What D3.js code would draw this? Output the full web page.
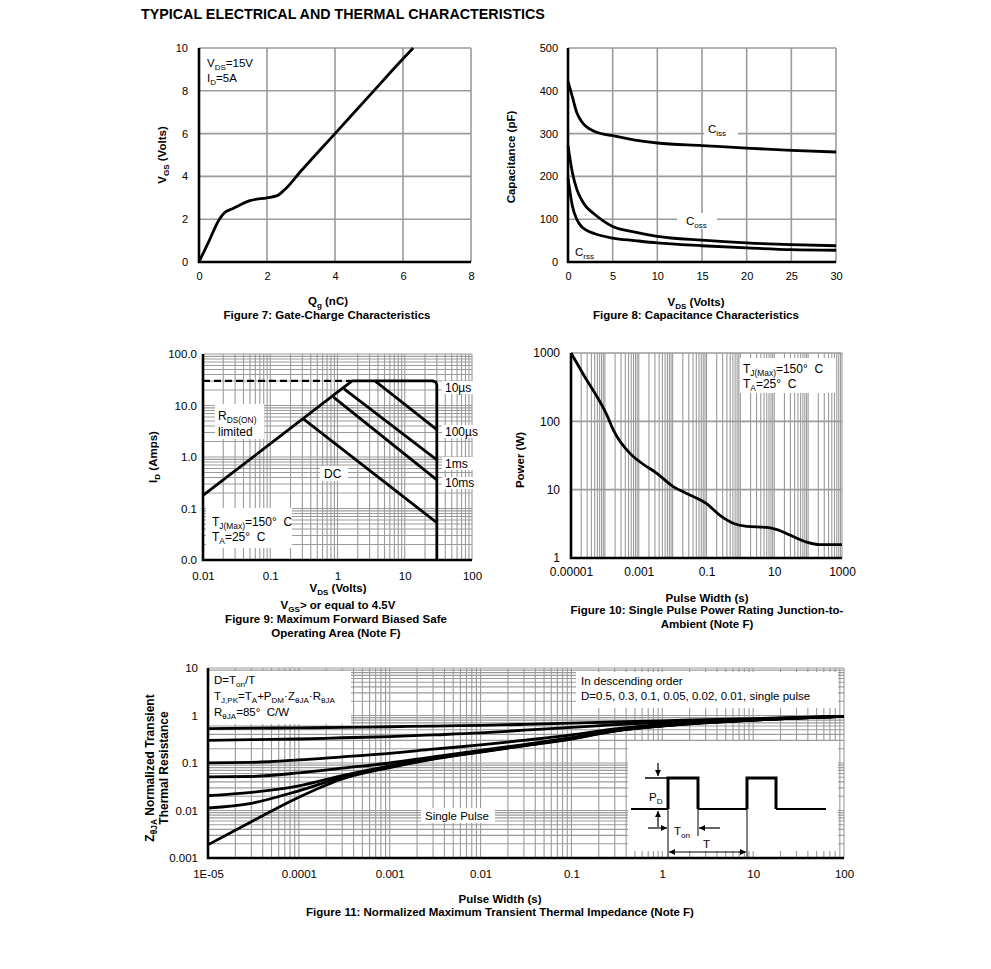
<!DOCTYPE html>
<html>
<head>
<meta charset="utf-8">
<script src="https://cdnjs.cloudflare.com/ajax/libs/d3/7.8.5/d3.min.js"></script>
<style>
  body { margin: 0; background: #fff; }
  svg { display: block; }
</style>
</head>
<body>
<svg width="991" height="969"></svg>
<script>

// Figure 7: gate charge
const gateQg = [0, 0.3, 0.6, 0.75, 1.0, 1.5, 2.0, 2.3, 2.5, 3.0, 4.0, 5.0, 6.0, 6.3]
const gateVgs = [0, 1.0, 2.0, 2.3, 2.5, 2.87, 3.0, 3.1, 3.35, 4.25, 6.0, 7.75, 9.5, 10]
const gateXTicks = [0, 2, 4, 6, 8]
const gateYTicks = [0, 2, 4, 6, 8, 10]

// Figure 8: capacitance
const capVds = [0, 0.5, 1, 1.5, 2, 3, 5, 7.5, 10, 15, 20, 25, 30]
const capCiss = [422, 385, 348, 329, 317, 305, 295, 285, 278, 272, 266, 261, 257]
const capCoss = [272, 208, 169, 146, 130, 111, 83, 70, 60, 51, 44.5, 40.5, 38]
const capCrss = [196, 130, 99, 83, 75, 66, 56, 50, 44.5, 38, 33, 29, 27.5]
const capXTicks = [0, 5, 10, 15, 20, 25, 30]
const capYTicks = [0, 100, 200, 300, 400, 500]

// Figure 9: safe operating area
const soaRdsV = [0.01, 1.65]
const soaRdsI = [0.18, 30]
const soaDashV = [0.01, 1.65]
const soaDashI = [30, 30]
const soa10usV = [1.65, 26, 29, 30, 30]
const soa10usI = [30, 30, 28.5, 25, 0.01]
const soa100usV = [3.6, 30]
const soa100usI = [30, 3.4]
const soa1msV = [1.25, 30]
const soa1msI = [21, 0.88]
const soa10msV = [0.87, 30]
const soa10msI = [14.6, 0.36]
const soaDcV = [0.31, 30]
const soaDcI = [5.5, 0.053]
const soaTicks = [0.01, 0.1, 1, 10, 100]
const soaXLabels = ['0.01', '0.1', '1', '10', '100']
const soaYLabels = ['0.0', '0.1', '1.0', '10.0', '100.0']

// Figure 10: single pulse power
const powT = [1e-5, 2.35e-5, 1.15e-4, 1.8e-4, 5.6e-4, 1.1e-3, 3.5e-3, 1.07e-2, 2.6e-2, 0.1, 0.25, 0.63, 1.55, 6, 12, 30, 91, 224, 1000]
const powW = [1000, 480, 123, 74, 33.7, 25.4, 17.2, 11, 8.8, 6.25, 4.2, 3.2, 2.9, 2.8, 2.6, 2.15, 1.71, 1.57, 1.57]
const powXTicks = [1e-5, 1e-3, 0.1, 10, 1000]
const powXLabels = ['0.00001', '0.001', '0.1', '10', '1000']
const powYTicks = [1, 10, 100, 1000]
const powYLabels = ['1', '10', '100', '1000']

// Figure 11: transient thermal impedance
const zthT = [1e-5, 3e-5, 1e-4, 3e-4, 1e-3, 3e-3, 1e-2, 3e-2, 0.1, 0.3, 1, 3, 10, 30, 100]
const zthD05 = [0.53, 0.54, 0.55, 0.56, 0.58, 0.60, 0.62, 0.65, 0.69, 0.73, 0.77, 0.82, 0.86, 0.91, 0.96]
const zthD03 = [0.30, 0.31, 0.32, 0.34, 0.36, 0.39, 0.43, 0.49, 0.56, 0.64, 0.71, 0.77, 0.84, 0.90, 0.96]
const zthD01 = [0.101, 0.103, 0.116, 0.135, 0.16, 0.195, 0.24, 0.30, 0.39, 0.52, 0.65, 0.74, 0.82, 0.89, 0.96]
const zthD005 = [0.051, 0.052, 0.062, 0.078, 0.10, 0.135, 0.185, 0.245, 0.34, 0.49, 0.62, 0.72, 0.81, 0.88, 0.96]
const zthD002 = [0.0205, 0.024, 0.033, 0.054, 0.087, 0.126, 0.176, 0.237, 0.33, 0.48, 0.61, 0.71, 0.80, 0.88, 0.96]
const zthD001 = [0.0113, 0.0142, 0.026, 0.05, 0.083, 0.122, 0.172, 0.233, 0.325, 0.475, 0.605, 0.71, 0.80, 0.88, 0.96]
const zthSingle = [0.0019, 0.0058, 0.019, 0.046, 0.08, 0.12, 0.17, 0.23, 0.32, 0.47, 0.60, 0.70, 0.80, 0.88, 0.96]
const zthXTicks = [1e-5, 1e-4, 1e-3, 1e-2, 0.1, 1, 10, 100]
const zthXLabels = ['1E-05', '0.0001', '0.001', '0.01', '0.1', '1', '10', '100']
const zthYTicks = [0.001, 0.01, 0.1, 1, 10]
const zthYLabels = ['0.001', '0.01', '0.1', '1', '10']


const FONT = '"Liberation Sans", Arial, Helvetica, sans-serif'
const GRID = '#9b9b9b'
const NB = '\u00a0'

const svg = d3.select('svg')
  .attr('font-family', FONT)

svg.append('rect')
  .attr('width', 991)
  .attr('height', 969)
  .attr('fill', '#fff')

const defs = svg.append('defs')
defs.append('marker')
  .attr('id', 'arrow')
  .attr('viewBox', '0 0 10 10')
  .attr('refX', 10)
  .attr('refY', 5)
  .attr('markerWidth', 5)
  .attr('markerHeight', 5)
  .attr('orient', 'auto-start-reverse')
  .append('path')
  .attr('d', 'M0,0 L10,5 L0,10 z')
  .attr('fill', '#000')


// helpers
const logSteps = function(lo, hi) {
  const out = []
  for (let e = Math.round(Math.log10(lo)); e < Math.round(Math.log10(hi)); e++) {
    for (let k = 1; k < 10; k++) out.push(k * Math.pow(10, e))
  }
  out.push(hi)
  return out
}

const vLines = function(xs, ys, values, w) {
  const [yb, yt] = ys.range()
  svg.append('g')
    .selectAll('line')
    .data(values)
    .enter()
    .append('line')
    .attr('x1', d => xs(d))
    .attr('x2', d => xs(d))
    .attr('y1', yt)
    .attr('y2', yb)
    .attr('stroke', GRID)
    .attr('stroke-width', w)
}

const hLines = function(xs, ys, values, w) {
  const [xl, xr] = xs.range()
  svg.append('g')
    .selectAll('line')
    .data(values)
    .enter()
    .append('line')
    .attr('x1', xl)
    .attr('x2', xr)
    .attr('y1', d => ys(d))
    .attr('y2', d => ys(d))
    .attr('stroke', GRID)
    .attr('stroke-width', w)
}

const axes = function(xs, ys, xTicks, xLabels, yTicks, yLabels, padB, padL, size) {
  const [xl, xr] = xs.range()
  const [yb, yt] = ys.range()
  const bottom = svg.append('g')
    .attr('transform', `translate(0, ${yb})`)
    .call(d3.axisBottom(xs).tickValues(xTicks).tickFormat((d, i) => xLabels[i]).tickSize(0).tickPadding(padB))
  const left = svg.append('g')
    .attr('transform', `translate(${xl}, 0)`)
    .call(d3.axisLeft(ys).tickValues(yTicks).tickFormat((d, i) => yLabels[i]).tickSize(0).tickPadding(padL))
  ;[bottom, left].forEach(g => {
    g.attr('font-size', size || 11).attr('font-family', FONT)
    g.select('.domain').remove()
  })
  svg.append('path')
    .attr('d', `M${xl},${yt}V${yb}H${xr}`)
    .attr('fill', 'none')
    .attr('stroke', '#000')
    .attr('stroke-width', 2.6)
}

const curve = function(xs, ys, xv, yv, smooth, w) {
  const line = d3.line()
    .x(d => xs(d[0]))
    .y(d => ys(d[1]))
    .curve(smooth ? d3.curveMonotoneX : d3.curveLinear)
  return svg.append('path')
    .datum(xv.map((x, i) => [x, yv[i]]))
    .attr('d', line)
    .attr('fill', 'none')
    .attr('stroke', '#000')
    .attr('stroke-width', w || 2.8)
    .attr('stroke-linejoin', 'round')
}

// parts: strings are normal text, one-element arrays are subscripts
const rich = function(x, y, parts, o = {}) {
  const size = o.size || 11
  const t = svg.append('text')
    .attr('font-size', size)
    .attr('font-weight', o.bold ? 'bold' : null)
    .attr('text-anchor', o.anchor || 'start')
  if (o.rotate) {
    t.attr('transform', `translate(${x}, ${y}) rotate(-90)`)
  } else {
    t.attr('x', x).attr('y', y)
  }
  let shift = 0
  parts.forEach(p => {
    const sub = Array.isArray(p)
    const target = sub ? size * 0.22 : 0
    t.append('tspan')
      .attr('dy', target - shift)
      .attr('font-size', sub ? size * 0.7 : size)
      .text(sub ? p[0] : p)
    shift = target
  })
  return t
}

const box = function(x, y, w, h) {
  svg.append('rect')
    .attr('x', x)
    .attr('y', y)
    .attr('width', w)
    .attr('height', h)
    .attr('fill', '#fff')
}

const caption = function(x, y, text) {
  svg.append('text')
    .attr('x', x)
    .attr('y', y)
    .attr('text-anchor', 'middle')
    .attr('font-size', 11.5)
    .attr('font-weight', 'bold')
    .text(text)
}


svg.append('text')
  .attr('x', 141)
  .attr('y', 19)
  .attr('font-size', 14.3)
  .attr('font-weight', 'bold')
  .text('TYPICAL ELECTRICAL AND THERMAL CHARACTERISTICS')


// Figure 7
const x7 = d3.scaleLinear().domain([0, 8]).range([199, 471])
const y7 = d3.scaleLinear().domain([0, 10]).range([262, 48])

vLines(x7, y7, gateXTicks, 1.6)
hLines(x7, y7, gateYTicks, 1.6)
curve(x7, y7, gateQg, gateVgs, true)
axes(x7, y7, gateXTicks, gateXTicks.map(String), gateYTicks, gateYTicks.map(String), 10, 11)

rich(207, 67, ['V', ['DS'], '=15V'], {size: 11.5})
rich(207, 82, ['I', ['D'], '=5A'], {size: 11.5})
rich(166, 155, ['V', ['GS'], ' (Volts)'], {bold: true, anchor: 'middle', rotate: true, size: 11.5})
rich(328, 305, ['Q', ['g'], ' (nC)'], {bold: true, anchor: 'middle', size: 11.5})
caption(327, 319, 'Figure 7: Gate-Charge Characteristics')


// Figure 8
const x8 = d3.scaleLinear().domain([0, 30]).range([568, 836])
const y8 = d3.scaleLinear().domain([0, 500]).range([262, 48])

vLines(x8, y8, capXTicks, 1.6)
hLines(x8, y8, capYTicks, 1.6)
box(704, 122, 34, 16)
box(677, 213, 40, 16)
curve(x8, y8, capVds, capCiss, true)
curve(x8, y8, capVds, capCoss, true)
curve(x8, y8, capVds, capCrss, true)
axes(x8, y8, capXTicks, capXTicks.map(String), capYTicks, capYTicks.map(String), 10, 10)

rich(708, 133, ['C', ['iss']], {size: 11.5})
rich(686, 225, ['C', ['oss']], {size: 11.5})
rich(575, 256, ['C', ['rss']], {size: 11.5})
rich(515, 157, ['Capacitance (pF)'], {bold: true, anchor: 'middle', rotate: true, size: 11.5})
rich(696, 306, ['V', ['DS'], ' (Volts)'], {bold: true, anchor: 'middle', size: 11.5})
caption(696, 319, 'Figure 8: Capacitance Characteristics')


// Figure 9
const x9 = d3.scaleLog().domain([0.01, 100]).range([203, 472])
const y9 = d3.scaleLog().domain([0.01, 100]).range([560, 354])

vLines(x9, y9, logSteps(0.01, 100), 1.1)
hLines(x9, y9, logSteps(0.01, 100), 1.1)
box(215, 404, 49, 35)
box(206, 508, 86, 40)
box(320, 466, 28, 15)
box(442, 381, 31, 13)
box(442, 425, 31, 13)
box(442, 457, 31, 13)
box(442, 477, 31, 12)

curve(x9, y9, soaRdsV, soaRdsI, false)
curve(x9, y9, soaDashV, soaDashI, false, 2.2).attr('stroke-dasharray', '7,4')
curve(x9, y9, soa10usV, soa10usI, false)
curve(x9, y9, soa100usV, soa100usI, false)
curve(x9, y9, soa1msV, soa1msI, false)
curve(x9, y9, soa10msV, soa10msI, false)
curve(x9, y9, soaDcV, soaDcI, false)
axes(x9, y9, soaTicks, soaXLabels, soaTicks, soaYLabels, 12, 6, 11.5)

rich(445, 392, ['10µs'], {size: 12})
rich(445, 436, ['100µs'], {size: 12})
rich(445, 468, ['1ms'], {size: 12})
rich(445, 487, ['10ms'], {size: 12})
rich(324, 478, ['DC'], {size: 12})
rich(218, 420, ['R', ['DS(ON)']], {size: 12})
rich(218, 436, ['limited'], {size: 12})
rich(212, 526, ['T', ['J(Max)'], '=150°' + NB + NB + 'C'], {size: 12})
rich(212, 541, ['T', ['A'], '=25°' + NB + NB + 'C'], {size: 12})

rich(157, 457, ['I', ['D'], ' (Amps)'], {bold: true, anchor: 'middle', rotate: true, size: 11.5})
rich(338, 592, ['V', ['DS'], ' (Volts)'], {bold: true, anchor: 'middle', size: 11.5})
rich(338, 609, ['V', ['GS'], '> or equal to 4.5V'], {bold: true, anchor: 'middle', size: 11.5})
caption(336, 623, 'Figure 9: Maximum Forward Biased Safe')
caption(336, 637, 'Operating Area (Note F)')


// Figure 10
const x10 = d3.scaleLog().domain([1e-5, 1000]).range([571, 842])
const y10 = d3.scaleLog().domain([1, 1000]).range([558, 353])

vLines(x10, y10, logSteps(1e-5, 1000), 1.1)
hLines(x10, y10, powYTicks, 1.6)
box(740, 358, 95, 35)
curve(x10, y10, powT, powW, true)
axes(x10, y10, powXTicks, powXLabels, powYTicks, powYLabels, 9, 11, 12)

rich(743, 373, ['T', ['J(Max)'], '=150°' + NB + NB + 'C'], {size: 12})
rich(743, 388, ['T', ['A'], '=25°' + NB + NB + 'C'], {size: 12})
rich(524, 460, ['Power (W)'], {bold: true, anchor: 'middle', rotate: true, size: 11.5})
rich(707, 602, ['Pulse Width (s)'], {bold: true, anchor: 'middle', size: 11.5})
caption(707, 614, 'Figure 10: Single Pulse Power Rating Junction-to-')
caption(707, 628, 'Ambient (Note F)')


// Figure 11
const x11 = d3.scaleLog().domain([1e-5, 100]).range([208, 844])
const y11 = d3.scaleLog().domain([0.001, 10]).range([858, 668])

vLines(x11, y11, logSteps(1e-5, 100), 1.1)
hLines(x11, y11, logSteps(0.001, 10), 1.1)
box(209, 671, 142, 53)
box(576, 672, 262, 36)
box(421, 808, 74, 15)
box(628, 741, 210, 110)

;[zthD05, zthD03, zthD01, zthD005, zthD002, zthD001, zthSingle].forEach(series => {
  curve(x11, y11, zthT, series, true)
})
axes(x11, y11, zthXTicks, zthXLabels, zthYTicks, zthYLabels, 12, 10, 11.5)

rich(214, 684, ['D=T', ['on'], '/T'], {size: 11.5})
rich(214, 700, ['T', ['J,PK'], '=T', ['A'], '+P', ['DM'], '·Z', ['θJA'], '·R', ['θJA']], {size: 11.5})
rich(214, 716, ['R', ['θJA'], '=85°' + NB + NB + 'C/W'], {size: 11.5})
rich(581, 685, ['In descending order'], {size: 11.5})
rich(581, 700, ['D=0.5, 0.3, 0.1, 0.05, 0.02, 0.01, single pulse'], {size: 11.5})
rich(425, 820, ['Single Pulse'], {size: 11.5})

// pulse sketch inside the inset
const ib = {x: 628, y: 741}
const lowY = ib.y + 68
const highY = ib.y + 37
const inset = svg.append('g')
  .attr('stroke', '#000')
  .attr('fill', 'none')

inset.append('path')
  .attr('d', `M${ib.x + 3},${lowY}H${ib.x + 40}M${ib.x + 70},${lowY}H${ib.x + 119}M${ib.x + 148},${lowY}H${ib.x + 198}`)
  .attr('stroke-width', 2)
inset.append('path')
  .attr('d', `M${ib.x + 40},${lowY}V${highY}H${ib.x + 70}V${lowY}M${ib.x + 119},${lowY}V${highY}H${ib.x + 148}V${lowY}`)
  .attr('stroke-width', 3)
inset.append('path')
  .attr('d', `M${ib.x + 17},${highY}H${ib.x + 40}`)
  .attr('stroke-width', 1.5)
inset.append('path')
  .attr('d', `M${ib.x + 40},${lowY}V${ib.y + 117}M${ib.x + 70},${lowY}V${ib.y + 95}M${ib.x + 119},${lowY}V${ib.y + 117}`)
  .attr('stroke-width', 1)

const arrows = [
  [ib.x + 30, ib.y + 22, ib.x + 30, highY - 2],
  [ib.x + 30, ib.y + 86, ib.x + 30, lowY + 2],
  [ib.x + 20, ib.y + 87, ib.x + 39, ib.y + 87],
  [ib.x + 92, ib.y + 87, ib.x + 71, ib.y + 87]
]
arrows.forEach(a => {
  inset.append('line')
    .attr('x1', a[0]).attr('y1', a[1])
    .attr('x2', a[2]).attr('y2', a[3])
    .attr('stroke-width', 1.2)
    .attr('marker-end', 'url(#arrow)')
})
inset.append('line')
  .attr('x1', ib.x + 41).attr('y1', ib.y + 111)
  .attr('x2', ib.x + 118).attr('y2', ib.y + 111)
  .attr('stroke-width', 1.2)
  .attr('marker-start', 'url(#arrow)')
  .attr('marker-end', 'url(#arrow)')

rich(ib.x + 21, ib.y + 60, ['P', ['D']], {size: 11.5})
rich(ib.x + 46, ib.y + 94, ['T', ['on']], {size: 11.5})
rich(ib.x + 75, ib.y + 107, ['T'], {size: 11.5})

rich(154, 768, ['Z', ['θJA'], ' Normalized Transient'], {bold: true, anchor: 'middle', rotate: true, size: 12})
rich(168, 768, ['Thermal Resistance'], {bold: true, anchor: 'middle', rotate: true, size: 12})
rich(500, 903, ['Pulse Width (s)'], {bold: true, anchor: 'middle', size: 11.5})
caption(500, 916, 'Figure 11: Normalized Maximum Transient Thermal Impedance (Note F)')

</script>
</body>
</html>
